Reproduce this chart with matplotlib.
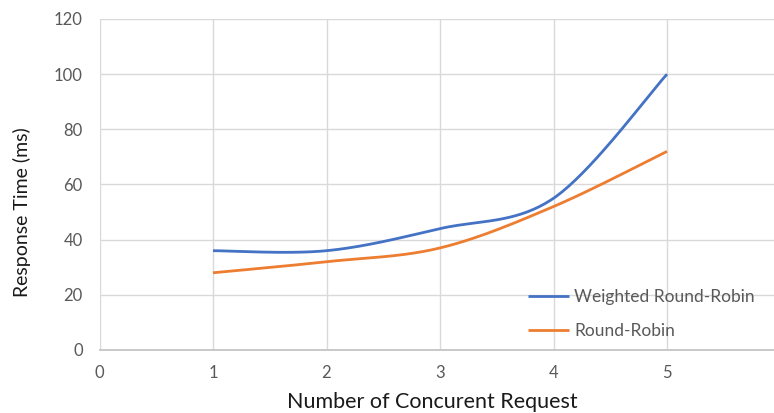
import numpy as np
import matplotlib.pyplot as plt

# Response time per number of concurrent requests
requests = [1, 2, 3, 4, 5]
weighted_rr = [36, 36, 44, 55, 100]
round_robin = [28, 32, 37, 52, 72]

x_ticks = [0, 1, 2, 3, 4, 5, 6]
y_ticks = [0, 20, 40, 60, 80, 100, 120]

plt.rcParams['font.family'] = ['Lato', 'DejaVu Sans']


def smooth(xs, ys, n=40):
    # Bezier smoothing through every point, like spreadsheet "smoothed lines"
    p = np.column_stack([xs, ys]).astype(float)
    ext = np.vstack([p[0], p, p[-1]])
    t = np.linspace(0, 1, n)[:, None]
    out = []
    for i in range(len(p) - 1):
        p0, p3 = ext[i + 1], ext[i + 2]
        c1 = p0 + (ext[i + 2] - ext[i]) / 6
        c2 = p3 - (ext[i + 3] - ext[i + 1]) / 6
        seg = ((1 - t) ** 3) * p0 + 3 * ((1 - t) ** 2) * t * c1 \
            + 3 * (1 - t) * t ** 2 * c2 + t ** 3 * p3
        out.append(seg if i == 0 else seg[1:])
    out = np.vstack(out)
    return out[:, 0], out[:, 1]


fig = plt.figure(figsize=(7.74, 4.13), dpi=100, facecolor='white')
ax = fig.add_axes([99.5 / 774, 63 / 413, 681 / 774, 331 / 413])
ax.patch.set_visible(False)

sx, sy = smooth(requests, weighted_rr)
ax.plot(sx, sy, color='#4472C4', lw=2.0, label='Weighted Round-Robin',
        solid_capstyle='butt', zorder=3)
sx, sy = smooth(requests, round_robin)
ax.plot(sx, sy, color='#ED7D31', lw=2.0, label='Round-Robin',
        solid_capstyle='butt', zorder=3)

ax.set_xlim(0, 6)
ax.set_ylim(0, 120)
ax.set_xticks(x_ticks)
ax.set_yticks(y_ticks)
ax.grid(True, axis='y', color='#D9D9D9', lw=1.0)
for xv in x_ticks[:-1]:
    ax.axvline(xv, color='#D9D9D9', lw=1.0, zorder=0.5)
ax.set_axisbelow(True)
for side in ['top', 'right', 'left']:
    ax.spines[side].set_visible(False)
ax.spines['bottom'].set_color('#C8C8C8')
ax.spines['bottom'].set_linewidth(1.4)
ax.tick_params(length=0, labelsize=12, labelcolor='#595959')
ax.tick_params(axis='y', pad=12)
ax.tick_params(axis='x', pad=11)

fig.text(432 / 774, 1 - 402 / 413, 'Number of Concurent Request',
         ha='center', va='center', fontsize=15.5, color='#1a1a1a')
fig.text(22 / 774, 1 - 212 / 413, 'Response Time (ms)', rotation=90,
         ha='center', va='center', fontsize=14, color='#1a1a1a')

fig.legend(loc='center left', bbox_to_anchor=(528 / 774, 1 - 314 / 413),
           frameon=False, borderpad=0, borderaxespad=0, fontsize=12.5,
           labelcolor='#595959', handlelength=2.35, handletextpad=0.3,
           labelspacing=1.05)

fig.savefig('out.png', dpi=100)
